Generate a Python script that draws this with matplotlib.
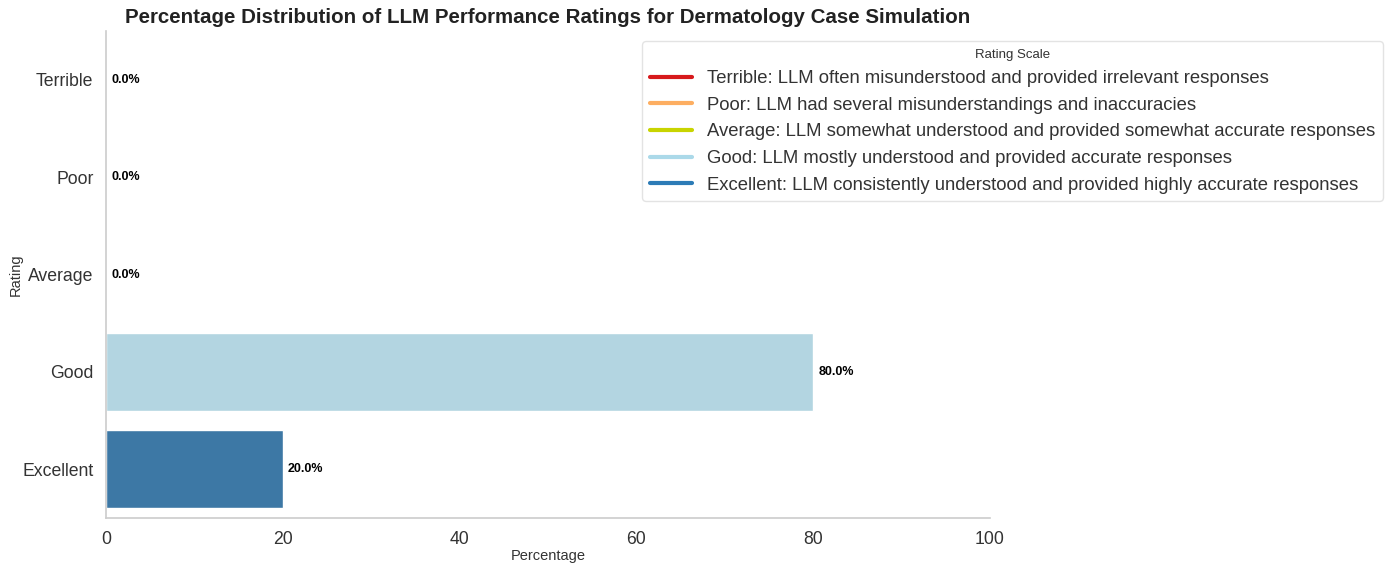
import matplotlib
matplotlib.use("Agg")
import matplotlib.pyplot as plt
import seaborn as sns
from matplotlib.lines import Line2D

sns.set_style("white")
plt.rcParams['font.family'] = ['Liberation Sans', 'DejaVu Sans']

ratings = ["Terrible", "Poor", "Average", "Good", "Excellent"]
percentages = [0.0, 0.0, 0.0, 80.0, 20.0]
colors = ["#d7191c", "#fdae61", "#c8d400", "#abd9e9", "#2c7bb6"]
descriptions = [
    "Terrible: LLM often misunderstood and provided irrelevant responses",
    "Poor: LLM had several misunderstandings and inaccuracies",
    "Average: LLM somewhat understood and provided somewhat accurate responses",
    "Good: LLM mostly understood and provided accurate responses",
    "Excellent: LLM consistently understood and provided highly accurate responses",
]

fig = plt.figure(figsize=(13.89, 5.64), dpi=100)
ax = fig.add_axes([106/1389, 1-518/564, (990-106)/1389, (518-31)/564])

sns.barplot(x=percentages, y=ratings, hue=ratings, palette=colors, legend=False,
            ax=ax, orient="h", saturation=0.75)

for i, v in enumerate(percentages):
    ax.text(v + 0.6, i, f"{v:.1f}%", va="center", ha="left", fontsize=9,
            fontweight="bold", color="black")

ax.set_xlim(0, 100)
ax.set_ylim(4.5, -0.5)
ax.set_xlabel("Percentage", fontsize=10.5, color="#333333", labelpad=1)
ax.set_ylabel("Rating", fontsize=10.5, color="#333333", labelpad=0)
ax.tick_params(axis="both", labelsize=12.7, colors="#333333", length=0)
ax.tick_params(axis="y", pad=9)
ax.tick_params(axis="x", pad=9)
ax.set_title("Percentage Distribution of LLM Performance Ratings for Dermatology Case Simulation",
             fontsize=14.8, fontweight="bold", color="#222222", pad=6)
for s in ["top", "right"]:
    ax.spines[s].set_visible(False)
for s in ["left", "bottom"]:
    ax.spines[s].set_color("#cccccc")
    ax.spines[s].set_linewidth(1.2)

handles = [Line2D([0], [0], color=c, lw=3) for c in colors]
leg = fig.legend(handles, descriptions, title="Rating Scale", loc="upper right",
                 bbox_to_anchor=(1392/1389, 1-32/564), fontsize=13.3,
                 title_fontsize=9.5, frameon=True, handlelength=2.3,
                 labelspacing=0.52, borderpad=0.4)
leg.get_frame().set_edgecolor("#dddddd")
for t in leg.get_texts():
    t.set_color("#333333")
leg.get_title().set_color("#333333")

fig.savefig("out.png", dpi=100)
